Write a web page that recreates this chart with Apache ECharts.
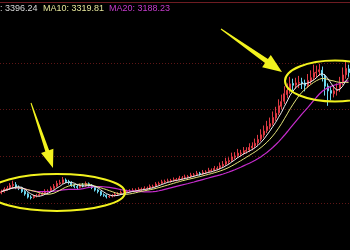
<!DOCTYPE html>
<html><head><meta charset="utf-8">
<script src="https://cdn.jsdelivr.net/npm/echarts@6/dist/echarts.min.js"></script>
<style>html,body{margin:0;padding:0;background:#000;}#c{width:350px;height:250px;}</style>
</head><body><div id="c"></div>
<script>
// ---- data ----
const opens = [2110,2125,2148,2160,2188,2198,2170,2162,2128,2100,2066,2060,2078,2082,2094,2102,2125,2132,2158,2182,
2208,2220,2248,2232,2222,2192,2180,2170,2192,2186,2208,2192,2170,2142,2124,2092,2084,2070,2076,2082,
2094,2102,2114,2120,2124,2132,2136,2142,2146,2152,2156,2162,2176,2182,2203,2212,2226,2234,2236,2244,
2248,2254,2266,2272,2278,2286,2298,2304,2318,2314,2328,2336,2348,2354,2368,2378,2398,2418,2442,2458,
2492,2508,2530,2538,2556,2568,2590,2612,2645,2684,2728,2775,2818,2855,2910,2965,3035,3090,3160,3210,
3280,3262,3282,3295,3285,3258,3305,3345,3392,3405,3420,3362,3252,3205,3170,3205,3220,3295,3372,3435];
const closes = [2122,2150,2158,2190,2200,2168,2160,2125,2098,2065,2058,2075,2080,2095,2100,2128,2130,2160,2180,2210,
2218,2250,2230,2220,2190,2178,2168,2190,2185,2210,2190,2168,2140,2125,2090,2085,2068,2075,2080,2095,
2100,2115,2118,2126,2130,2138,2140,2148,2150,2158,2160,2178,2180,2205,2210,2228,2232,2238,2242,2250,
2252,2268,2270,2280,2284,2300,2302,2320,2312,2330,2334,2350,2352,2370,2375,2400,2415,2445,2455,2495,
2505,2535,2536,2560,2565,2595,2610,2640,2680,2730,2770,2820,2850,2915,2960,3040,3085,3170,3205,3275,
3260,3285,3290,3280,3255,3310,3340,3395,3400,3425,3360,3250,3200,3175,3200,3215,3290,3370,3440,3396];
const lows = [2095,2112,2135,2148,2170,2150,2140,2110,2080,2050,2040,2048,2062,2070,2080,2092,2110,2120,2145,2170,
2195,2205,2215,2200,2175,2160,2150,2158,2170,2175,2178,2150,2125,2105,2075,2068,2050,2055,2062,2070,
2082,2090,2100,2108,2112,2118,2120,2128,2130,2138,2140,2148,2160,2170,2190,2200,2212,2218,2220,2228,
2232,2240,2250,2258,2262,2270,2280,2290,2295,2300,2312,2320,2330,2338,2350,2360,2380,2400,2420,2440,
2470,2485,2500,2515,2530,2545,2565,2590,2620,2660,2700,2750,2790,2830,2880,2940,3000,3060,3120,3170,
3200,3220,3230,3220,3195,3230,3270,3310,3340,3360,3300,3150,3040,3100,3130,3150,3190,3260,3330,3350];
const highs = [2145,2170,2185,2215,2240,2225,2190,2175,2140,2115,2085,2092,2100,2118,2125,2150,2148,2180,2205,2240,
2250,2280,2265,2250,2235,2205,2195,2210,2215,2232,2222,2205,2180,2155,2132,2105,2095,2090,2098,2112,
2118,2135,2138,2145,2150,2160,2158,2170,2168,2180,2178,2200,2198,2225,2230,2250,2252,2262,2260,2275,
2270,2292,2290,2305,2302,2325,2322,2345,2335,2355,2352,2378,2372,2398,2395,2435,2450,2485,2490,2540,
2545,2580,2570,2600,2598,2640,2650,2690,2730,2790,2830,2880,2915,2980,3030,3110,3160,3250,3280,3350,
3330,3340,3360,3340,3320,3380,3420,3480,3470,3490,3460,3380,3280,3250,3260,3280,3350,3450,3530,3480];
const categories = closes.map((_, i) => 'D' + (i + 1));
const headerTexts = [': 3396.24', 'MA10: 3319.81', 'MA20: 3188.23'];
const gridLevels = { min: 1500, max: 4000, step: 500 };

function movingAverage(n) {
  return closes.map((_, i) => {
    const s = Math.max(0, i - n + 1);
    let sum = 0;
    for (let k = s; k <= i; k++) sum += closes[k];
    return +(sum / (i - s + 1)).toFixed(2);
  });
}
const ohlc = closes.map((c, i) => [opens[i], c, lows[i], highs[i]]);

// ---- annotation geometry ----
function arrow(x1, y1, x2, y2, w0, w1, hl, hw) {
  const L = Math.hypot(x2 - x1, y2 - y1), dx = (x2 - x1) / L, dy = (y2 - y1) / L;
  const nx = -dy, ny = dx, bx = x2 - dx * hl, by = y2 - dy * hl;
  return [[x1 + nx * w0 / 2, y1 + ny * w0 / 2], [bx + nx * w1 / 2, by + ny * w1 / 2], [bx + nx * hw / 2, by + ny * hw / 2],
          [x2, y2], [bx - nx * hw / 2, by - ny * hw / 2], [bx - nx * w1 / 2, by - ny * w1 / 2], [x1 - nx * w0 / 2, y1 - ny * w0 / 2]];
}
const YEL = '#f2f21e';
const font = '9px "Liberation Sans", Arial, sans-serif';

const chart = echarts.init(document.getElementById('c'), null, { renderer: 'canvas' });
chart.setOption({
  backgroundColor: '#000',
  animation: false,
  grid: { left: 0, right: 0, top: 16, bottom: -11 },
  xAxis: { type: 'category', data: categories, boundaryGap: true, show: false },
  yAxis: {
    type: 'value', min: gridLevels.min, max: gridLevels.max, interval: gridLevels.step,
    axisLabel: { show: false }, axisLine: { show: false }, axisTick: { show: false },
    splitLine: { show: true, showMinLine: false, showMaxLine: false, lineStyle: { color: '#5e1616', type: [1, 2], width: 1 } }
  },
  series: [
    { type: 'candlestick', data: ohlc, barWidth: '50%',
      itemStyle: { color: '#e03a44', color0: '#6cd6f0', borderColor: '#e03a44', borderColor0: '#6cd6f0', borderWidth: 1 } },
    { type: 'line', data: movingAverage(20), showSymbol: false, lineStyle: { color: '#c62ccc', width: 1.2 }, z: 3 },
    { type: 'line', data: movingAverage(10), showSymbol: false, lineStyle: { color: '#e4e47a', width: 1 }, z: 4 },
    { type: 'line', data: movingAverage(5), showSymbol: false, lineStyle: { color: '#eeeeee', width: 1 }, z: 5 }
  ],
  graphic: [
    { type: 'line', shape: { x1: 0, y1: 2.5, x2: 350, y2: 2.5 }, style: { stroke: '#6e1c22', lineWidth: 1 }, z: 10 },
    { type: 'text', x: 0, y: 9, style: { text: headerTexts[0], fill: '#d8d8d8', font: font, textVerticalAlign: 'middle' }, z: 10 },
    { type: 'text', x: 43, y: 9, style: { text: headerTexts[1], fill: '#e4e49a', font: font, textVerticalAlign: 'middle' }, z: 10 },
    { type: 'text', x: 109, y: 9, style: { text: headerTexts[2], fill: '#c63ccc', font: font, textVerticalAlign: 'middle' }, z: 10 },
    { type: 'ellipse', shape: { cx: 57, cy: 192.5, rx: 68, ry: 18.5 }, style: { fill: 'none', stroke: YEL, lineWidth: 2 }, z: 20 },
    { type: 'ellipse', shape: { cx: 335, cy: 81, rx: 50, ry: 20.5 }, style: { fill: 'none', stroke: YEL, lineWidth: 2 }, z: 20 },
    { type: 'polygon', shape: { points: arrow(31, 103, 53, 168, 1, 4, 18, 13) }, style: { fill: YEL }, z: 20 },
    { type: 'polygon', shape: { points: arrow(221, 29, 282, 72, 1, 5, 19, 15) }, style: { fill: YEL }, z: 20 }
  ]
});
</script></body></html>
